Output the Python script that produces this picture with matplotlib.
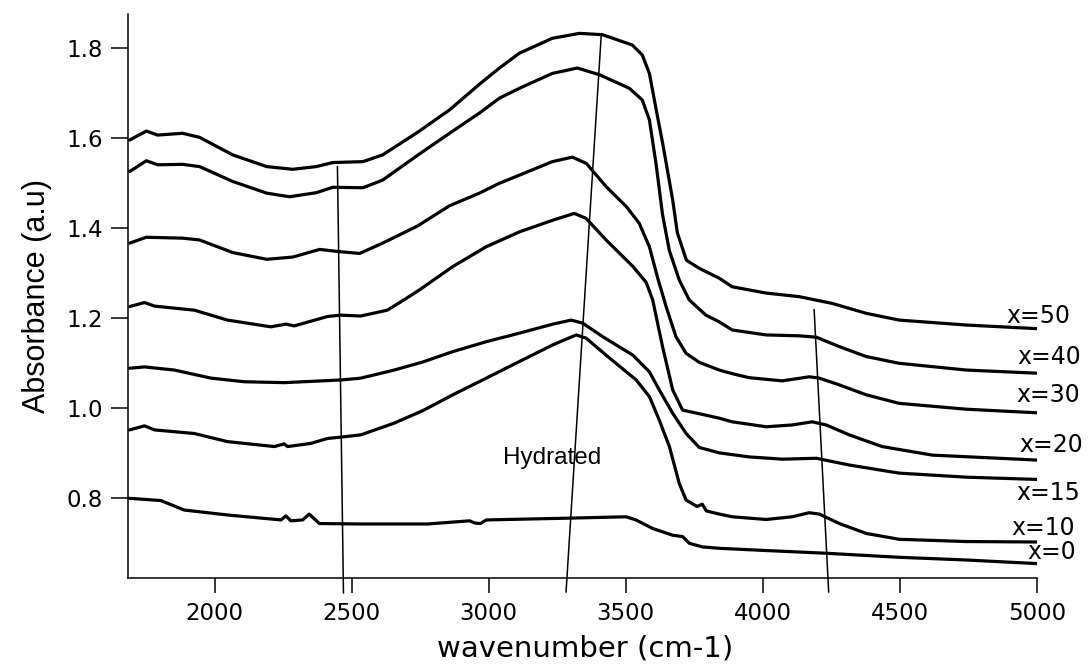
import matplotlib
matplotlib.use('Agg')
import matplotlib.pyplot as plt

# spectra: wavenumber (cm-1) and absorbance
wn_x50 = [1690, 1751, 1792, 1883, 1945, 2066, 2190, 2285, 2371, 2431, 2541, 2613, 2740, 2857, 2970,
          3039, 3112, 3232, 3331, 3415, 3524, 3560, 3586, 3611, 3634, 3671, 3688, 3721, 3768, 3841,
          3888, 4012, 4133, 4253, 4377, 4497, 4742, 5000]
ab_x50 = [1.596, 1.616, 1.607, 1.611, 1.602, 1.563, 1.537, 1.531, 1.537, 1.546, 1.548, 1.563, 1.613,
          1.663, 1.722, 1.756, 1.789, 1.822, 1.833, 1.830, 1.807, 1.785, 1.744, 1.663, 1.590, 1.463,
          1.390, 1.329, 1.311, 1.289, 1.270, 1.256, 1.248, 1.233, 1.211, 1.196, 1.185, 1.177]

wn_x40 = [1690, 1751, 1792, 1883, 1945, 2066, 2190, 2273, 2371, 2431, 2541, 2613, 2740, 2857, 2966,
          3039, 3112, 3232, 3323, 3404, 3513, 3560, 3586, 3611, 3634, 3659, 3695, 3731, 3792, 3841,
          3888, 4012, 4133, 4195, 4279, 4377, 4497, 4742, 5000]
ab_x40 = [1.526, 1.550, 1.541, 1.542, 1.537, 1.504, 1.478, 1.470, 1.479, 1.491, 1.490, 1.507, 1.562,
          1.611, 1.656, 1.689, 1.711, 1.744, 1.756, 1.741, 1.711, 1.685, 1.641, 1.540, 1.430, 1.350,
          1.285, 1.241, 1.207, 1.192, 1.174, 1.163, 1.161, 1.158, 1.137, 1.115, 1.100, 1.085, 1.078]

wn_x30 = [1690, 1751, 1883, 1945, 2066, 2190, 2285, 2383, 2456, 2529, 2613, 2740, 2857, 2966, 3039,
          3112, 3232, 3305, 3356, 3429, 3502, 3549, 3586, 3616, 3647, 3683, 3720, 3768, 3841, 3888,
          3950, 4071, 4169, 4206, 4279, 4377, 4497, 4742, 5000]
ab_x30 = [1.367, 1.380, 1.378, 1.374, 1.346, 1.331, 1.336, 1.353, 1.348, 1.344, 1.367, 1.405, 1.450,
          1.478, 1.500, 1.518, 1.548, 1.558, 1.544, 1.492, 1.448, 1.411, 1.359, 1.290, 1.226, 1.159,
          1.122, 1.102, 1.085, 1.077, 1.068, 1.061, 1.070, 1.067, 1.052, 1.030, 1.011, 0.998, 0.990]

wn_x20 = [1690, 1744, 1781, 1926, 2047, 2205, 2260, 2290, 2412, 2461, 2533, 2630, 2691, 2747, 2869,
          2991, 3112, 3234, 3312, 3355, 3428, 3526, 3574, 3598, 3634, 3671, 3707, 3768, 3841, 3888,
          4012, 4107, 4180, 4231, 4315, 4435, 4618, 5000]
ab_x20 = [1.226, 1.235, 1.227, 1.218, 1.196, 1.181, 1.187, 1.183, 1.204, 1.207, 1.205, 1.218, 1.241,
          1.263, 1.315, 1.359, 1.392, 1.418, 1.433, 1.422, 1.374, 1.315, 1.280, 1.241, 1.137, 1.041,
          0.996, 0.988, 0.978, 0.970, 0.959, 0.963, 0.970, 0.963, 0.941, 0.915, 0.896, 0.885]

wn_x15 = [1690, 1744, 1853, 1987, 2108, 2254, 2461, 2533, 2655, 2760, 2869, 2991, 3112, 3234, 3301,
          3343, 3416, 3526, 3586, 3622, 3671, 3720, 3768, 3841, 3950, 4071, 4195, 4315, 4497, 4742, 5000]
ab_x15 = [1.089, 1.092, 1.085, 1.067, 1.059, 1.057, 1.063, 1.067, 1.085, 1.103, 1.126, 1.148, 1.167,
          1.187, 1.196, 1.189, 1.159, 1.118, 1.081, 1.041, 0.989, 0.944, 0.913, 0.901, 0.892, 0.887,
          0.889, 0.874, 0.856, 0.847, 0.842]

wn_x10 = [1690, 1744, 1781, 1926, 2047, 2218, 2254, 2266, 2351, 2412, 2461, 2533, 2655, 2760, 2869,
          2991, 3112, 3234, 3319, 3355, 3428, 3538, 3586, 3622, 3659, 3695, 3720, 3760, 3779, 3794,
          3841, 3888, 4012, 4107, 4169, 4206, 4279, 4377, 4497, 4742, 5000]
ab_x10 = [0.952, 0.961, 0.952, 0.944, 0.926, 0.915, 0.921, 0.915, 0.922, 0.933, 0.936, 0.941, 0.967,
          0.995, 1.030, 1.067, 1.104, 1.141, 1.163, 1.156, 1.118, 1.063, 1.026, 0.974, 0.915, 0.833,
          0.796, 0.782, 0.787, 0.772, 0.765, 0.759, 0.753, 0.759, 0.768, 0.765, 0.744, 0.722, 0.709,
          0.704, 0.703]

wn_x0 = [1690, 1804, 1889, 2047, 2242, 2260, 2278, 2321, 2345, 2382, 2533, 2777, 2930, 2950, 2970,
         2991, 3294, 3501, 3537, 3598, 3671, 3707, 3732, 3780, 3841, 4012, 4231, 4497, 4742, 5000]
ab_x0 = [0.800, 0.795, 0.774, 0.763, 0.752, 0.761, 0.750, 0.752, 0.765, 0.744, 0.743, 0.743, 0.750,
         0.745, 0.744, 0.752, 0.756, 0.759, 0.752, 0.733, 0.718, 0.715, 0.700, 0.692, 0.689, 0.684,
         0.678, 0.669, 0.663, 0.655]

series = [(wn_x50, ab_x50), (wn_x40, ab_x40), (wn_x30, ab_x30), (wn_x20, ab_x20),
          (wn_x15, ab_x15), (wn_x10, ab_x10), (wn_x0, ab_x0)]
names = ['x=50', 'x=40', 'x=30', 'x=20', 'x=15', 'x=10', 'x=0']

# label spots to the right of the curve ends
name_x = [5004, 5044, 5040, 5050, 5042, 5022, 5053]
name_y = [1.204, 1.115, 1.030, 0.919, 0.811, 0.733, 0.681]

# guide lines (start, end)
guide_x = [(2448, 2470), (3410, 3282), (4187, 4240)]
guide_y = [(1.537, 0.590), (1.826, 0.592), (1.219, 0.592)]

fig = plt.figure(figsize=(10.91, 6.64), dpi=100)
ax = fig.add_axes([128 / 1091, 86 / 664, 909 / 1091, 564 / 664])

for (wn, ab) in series:
    ax.plot(wn, ab, color='black', lw=2.3, solid_joinstyle='round', solid_capstyle='round')

for (gx, gy) in zip(guide_x, guide_y):
    ax.plot(gx, gy, color='black', lw=1.1, clip_on=False)

for n, tx, ty in zip(names, name_x, name_y):
    ax.text(tx, ty, n, fontsize=17, family='DejaVu Sans', ha='center', va='center', clip_on=False)

ax.text(3233, 0.890, 'Hydrated', fontsize=17.5, family='Liberation Sans', ha='center', va='center')

ax.set_xlim(1684, 5000)
ax.set_ylim(0.623, 1.876)
ax.set_xticks([2000, 2500, 3000, 3500, 4000, 4500, 5000])
ax.set_yticks([0.8, 1.0, 1.2, 1.4, 1.6, 1.8])
ax.set_yticklabels(['0.8', '1.0', '1.2', '1.4', '1.6', '1.8'])

ax.spines['top'].set_visible(False)
ax.spines['right'].set_visible(False)
ax.spines['left'].set_linewidth(1.1)
ax.spines['bottom'].set_linewidth(1.1)
ax.tick_params(axis='x', direction='out', length=11, width=1.1, pad=6, labelsize=16.5)
ax.tick_params(axis='y', direction='out', length=12, width=1.1, pad=6, labelsize=16.5)
for lab in ax.get_xticklabels() + ax.get_yticklabels():
    lab.set_family('DejaVu Sans')

fig.text(585 / 1091, 1 - 648 / 664, 'wavenumber (cm-1)', fontsize=21, family='DejaVu Sans',
         ha='center', va='center')
fig.text(37 / 1091, 1 - 296 / 664, 'Absorbance (a.u)', fontsize=22, family='Liberation Sans',
         rotation=90, ha='center', va='center')

fig.savefig('out.png', dpi=100)
